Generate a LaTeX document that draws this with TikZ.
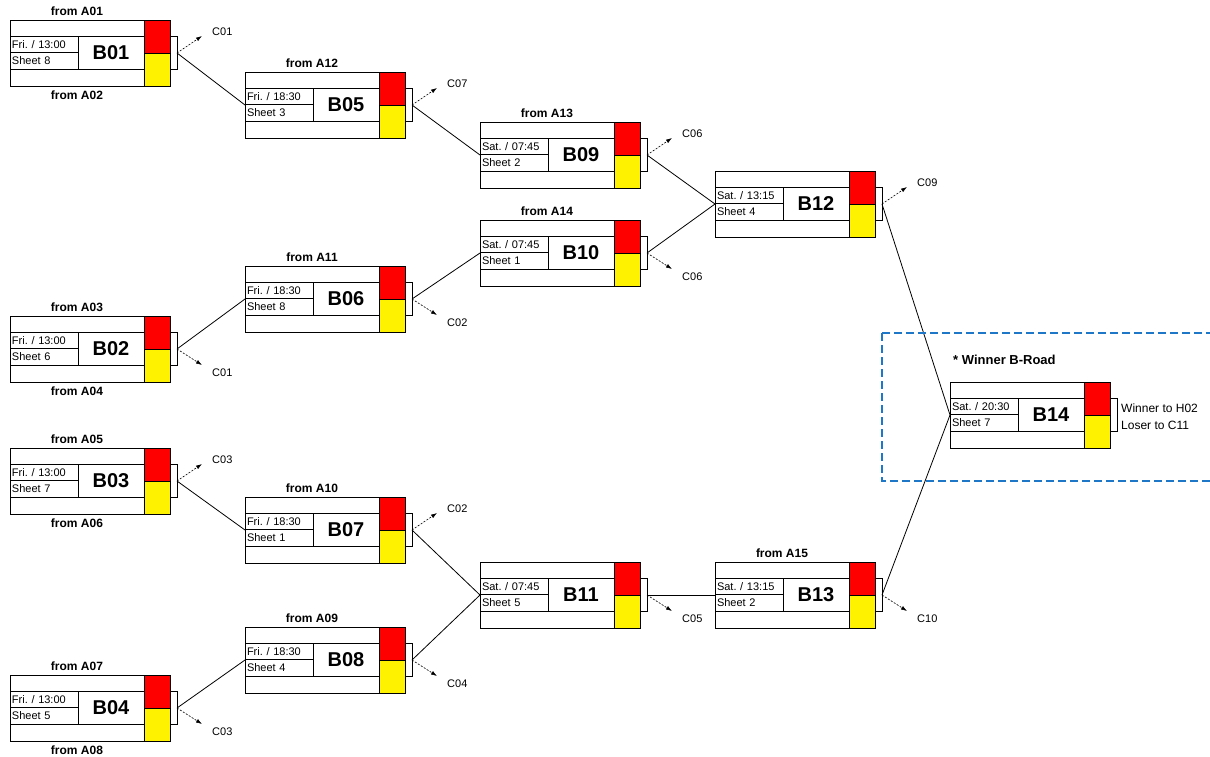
\documentclass[tikz,border=0pt]{standalone}
\usepackage{fontspec}
\setmainfont{Liberation Sans}
\usetikzlibrary{arrows.meta}
\frenchspacing

\definecolor{roadblue}{RGB}{31,119,200}

\newcommand{\fs}[1]{\fontsize{#1}{#1}\selectfont}

% one game box: name, x, y (top left), day / time, sheet
\newcommand{\game}[5]{%
  \node[frame]    (#1)    at (#2,#3) {};
  \node[timecell] (#1-t)  at ([yshift=-16pt]#1.north west) {#4};
  \node[timecell] (#1-s)  at (#1-t.south west) {#5};
  \node[idcell]   (#1-id) at (#1-t.north east) {#1};
  \node[redcol]   (#1-r)  at (#1.north east) {};
  \node[yelcol]   (#1-y)  at (#1-r.south west) {};
  \draw[wire] (#1-r.east |- #1-t.north) -- ++(7,0) |- (#1-r.east |- #1-s.south);
  \coordinate (#1-o) at ([xshift=7pt]#1-r.south east);
  \coordinate (#1-n) at ([xshift=67pt]#1.north west);
  \coordinate (#1-b) at ([xshift=67pt]#1.south west);
}

% loser goes to the C-road
\newcommand{\loseup}[2]{%
  \coordinate (#1-tip) at ([shift={(25pt,17pt)}]#1-o);
  \draw[lose] (#1-o) -- (#1-tip);
  \node[clbl, anchor=south west] (#1-c) at ([xshift=10pt]#1-tip) {#2};
}
\newcommand{\losedown}[2]{%
  \coordinate (#1-tip) at ([shift={(25pt,-16pt)}]#1-o);
  \draw[lose] (#1-o) -- (#1-tip);
  \node[clbl, anchor=north west] (#1-c) at ([shift={(10pt,-4pt)}]#1-tip) {#2};
}

\begin{document}
\begin{tikzpicture}[
    x=1pt, y=-1pt,
    frame/.style={draw, line width=0.8pt, anchor=north west, inner sep=0pt, outer sep=0pt, minimum width=160pt, minimum height=66pt},
    timecell/.style={draw, line width=0.8pt, anchor=north west, text width=64pt, align=left, inner xsep=2pt, inner ysep=0pt, outer sep=0pt, minimum height=16.5pt, font=\fs{11}},
    idcell/.style={draw, line width=0.8pt, anchor=north west, inner sep=0pt, outer sep=0pt, minimum width=66pt, minimum height=33pt, font=\bfseries\fs{20}},
    redcol/.style={draw, line width=0.8pt, fill=red, anchor=north east, inner sep=0pt, outer sep=0pt, minimum width=26pt, minimum height=33pt},
    yelcol/.style={redcol, fill=yellow, anchor=north west},
    wire/.style={line width=0.8pt},
    lose/.style={-{Latex[length=6pt,width=4pt]}, line width=0.6pt, dash pattern=on 2pt off 1.5pt},
    clbl/.style={font=\fs{11}, inner sep=0pt},
    fromlbl/.style={font=\bfseries\fs{12}, inner sep=1pt},
    note/.style={font=\fs{12}, inner sep=0pt},
    road/.style={draw=roadblue, line width=1.6pt, dash pattern=on 8pt off 4pt},
]

\useasboundingbox (0,0) rectangle (1210,756);

% Friday 13:00
\game{B01}{10}{20}{Fri. / 13:00}{Sheet 8}
\game{B02}{10}{316}{Fri. / 13:00}{Sheet 6}
\game{B03}{10}{448}{Fri. / 13:00}{Sheet 7}
\game{B04}{10}{675}{Fri. / 13:00}{Sheet 5}

% Friday 18:30
\game{B05}{245}{72}{Fri. / 18:30}{Sheet 3}
\game{B06}{245}{266}{Fri. / 18:30}{Sheet 8}
\game{B07}{245}{497}{Fri. / 18:30}{Sheet 1}
\game{B08}{245}{627}{Fri. / 18:30}{Sheet 4}

% Saturday
\game{B09}{480}{122}{Sat. / 07:45}{Sheet 2}
\game{B10}{480}{220}{Sat. / 07:45}{Sheet 1}
\game{B11}{480}{562}{Sat. / 07:45}{Sheet 5}
\game{B12}{715}{171}{Sat. / 13:15}{Sheet 4}
\game{B13}{715}{562}{Sat. / 13:15}{Sheet 2}
\game{B14}{950}{382}{Sat. / 20:30}{Sheet 7}

% incoming from the A-road
\node[fromlbl, above=3pt] (fA01) at (B01-n) {from A01};
\node[fromlbl, below=4pt] (fA02) at (B01-b) {from A02};
\node[fromlbl, above=3pt] (fA03) at (B02-n) {from A03};
\node[fromlbl, below=4pt] (fA04) at (B02-b) {from A04};
\node[fromlbl, above=3pt] (fA05) at (B03-n) {from A05};
\node[fromlbl, below=4pt] (fA06) at (B03-b) {from A06};
\node[fromlbl, above=3pt] (fA07) at (B04-n) {from A07};
\node[fromlbl, below=4pt] (fA08) at (B04-b) {from A08};
\node[fromlbl, above=3pt] (fA12) at (B05-n) {from A12};
\node[fromlbl, above=3pt] (fA11) at (B06-n) {from A11};
\node[fromlbl, above=3pt] (fA10) at (B07-n) {from A10};
\node[fromlbl, above=3pt] (fA09) at (B08-n) {from A09};
\node[fromlbl, above=3pt] (fA13) at (B09-n) {from A13};
\node[fromlbl, above=3pt] (fA14) at (B10-n) {from A14};
\node[fromlbl, above=3pt] (fA15) at (B13-n) {from A15};

% winners
\draw[wire] (B01-o) -- (B05.west);
\draw[wire] (B02-o) -- (B06.west);
\draw[wire] (B03-o) -- (B07.west);
\draw[wire] (B04-o) -- (B08.west);
\draw[wire] (B05-o) -- (B09.west);
\draw[wire] (B06-o) -- (B10.west);
\draw[wire] (B07-o) -- (B11.west);
\draw[wire] (B08-o) -- (B11.west);
\draw[wire] (B09-o) -- (B12.west);
\draw[wire] (B10-o) -- (B12.west);
\draw[wire] (B11-o) -- (B13.west);
\draw[wire] (B12-o) -- (B14.west);
\draw[wire] (B13-o) -- (B14.west);

% losers
\loseup{B01}{C01}
\losedown{B02}{C01}
\loseup{B03}{C03}
\losedown{B04}{C03}
\loseup{B05}{C07}
\losedown{B06}{C02}
\loseup{B07}{C02}
\losedown{B08}{C04}
\loseup{B09}{C06}
\losedown{B10}{C06}
\losedown{B11}{C05}
\loseup{B12}{C09}
\losedown{B13}{C10}

% final of the B-road
\draw[road] (882,333) rectangle (1230,481);
\node[font=\bfseries\fs{13}, anchor=base west, inner sep=0pt] (broad) at ([shift={(3pt,18pt)}]B14.north west) {* Winner B-Road};
\node[note, anchor=base west] (B14-w) at ([shift={(4pt,3pt)}]B14-o) {Winner to H02};
\node[note, anchor=base west] (B14-l) at ([shift={(4pt,-14pt)}]B14-o) {Loser to C11};

\end{tikzpicture}
\end{document}
